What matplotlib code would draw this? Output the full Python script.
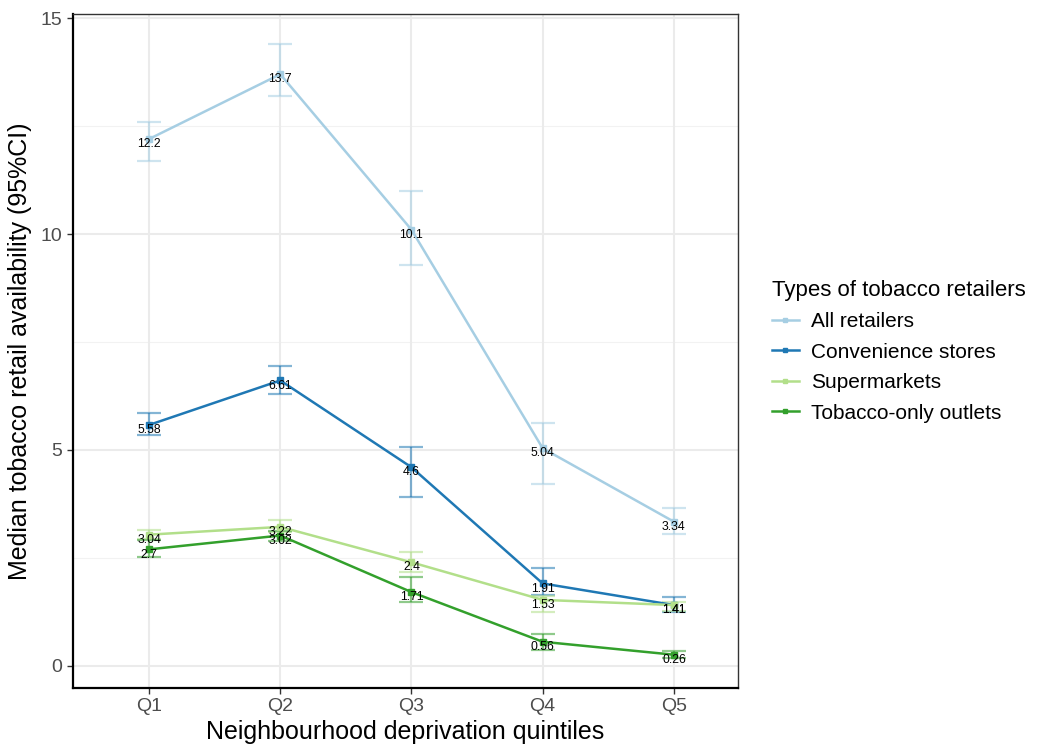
import numpy as np
import matplotlib
matplotlib.use("Agg")
import matplotlib.pyplot as plt

plt.rcParams['font.family'] = ['Liberation Sans', 'DejaVu Sans']

# 数据
quintiles = ["Q1", "Q2", "Q3", "Q4", "Q5"]
series_names = ["All retailers", "Convenience stores", "Supermarkets", "Tobacco-only outlets"]
colors = ["#A6CEE3", "#1F78B4", "#B2DF8A", "#33A02C"]

all_med = [12.2, 13.7, 10.1, 5.04, 3.34]
all_lo = [11.69, 13.19, 9.28, 4.21, 3.06]
all_hi = [12.59, 14.40, 11.00, 5.62, 3.65]

conv_med = [5.58, 6.61, 4.6, 1.91, 1.41]
conv_lo = [5.35, 6.30, 3.91, 1.64, 1.26]
conv_hi = [5.85, 6.95, 5.06, 2.26, 1.60]

super_med = [3.04, 3.22, 2.4, 1.53, 1.41]
super_lo = [2.93, 3.10, 2.18, 1.24, 1.28]
super_hi = [3.15, 3.38, 2.65, 1.63, 1.48]

tob_med = [2.7, 3.02, 1.71, 0.56, 0.26]
tob_lo = [2.52, 2.90, 1.49, 0.37, 0.18]
tob_hi = [2.92, 3.12, 2.07, 0.75, 0.35]

meds = [all_med, conv_med, super_med, tob_med]
los = [all_lo, conv_lo, super_lo, tob_lo]
his = [all_hi, conv_hi, super_hi, tob_hi]

fig = plt.figure(figsize=(10.41, 7.47), dpi=100)
ax = fig.add_axes([0.0701, 0.079, 0.639, 0.902])
x = np.arange(len(quintiles))

# 网格
for v in [2.5, 7.5, 12.5]:
    ax.axhline(v, color="#F2F2F2", lw=0.8, zorder=0)
for v in [0, 5, 10, 15]:
    ax.axhline(v, color="#EBEBEB", lw=1.5, zorder=0)
for xi in x:
    ax.axvline(xi, color="#EBEBEB", lw=1.5, zorder=0)

for name, c, m, lo, hi in zip(series_names, colors, meds, los, his):
    m = np.array(m); lo = np.array(lo); hi = np.array(hi)
    ax.errorbar(x, m, yerr=[m - lo, hi - m], fmt="none", ecolor=c, alpha=0.55,
                elinewidth=1.6, capsize=8.5, capthick=1.6, zorder=2)
    ax.plot(x, m, color=c, lw=1.8, marker="s", ms=4.5, label=name, zorder=3)
    for xi, v in zip(x, m):
        ax.text(xi, v - 0.12, f"{v:g}", ha="center", va="center", fontsize=8.8,
                color="black", zorder=4)

ax.set_xlim(-0.58, 4.49)
ax.set_ylim(-0.51, 15.09)
ax.set_xticks(x)
ax.set_xticklabels(quintiles)
ax.set_yticks([0, 5, 10, 15])
ax.tick_params(axis="both", labelsize=14, labelcolor="#4D4D4D", color="#333333",
               length=4, width=1)
ax.set_xlabel("Neighbourhood deprivation quintiles", fontsize=18, labelpad=3)
ax.set_ylabel("Median tobacco retail availability (95%CI)", fontsize=18, labelpad=6)

for s in ["left", "bottom"]:
    ax.spines[s].set_color("black")
    ax.spines[s].set_linewidth(1.6)
for s in ["top", "right"]:
    ax.spines[s].set_color("#333333")
    ax.spines[s].set_linewidth(1.0)

leg = ax.legend(loc="center left", bbox_to_anchor=(1.022, 0.5), frameon=False,
                title="Types of tobacco retailers", title_fontsize=16, fontsize=15,
                handlelength=1.3, handletextpad=0.6, labelspacing=0.55,
                markerscale=0.7)
leg._legend_box.align = "left"

fig.savefig("out.png", dpi=100)
